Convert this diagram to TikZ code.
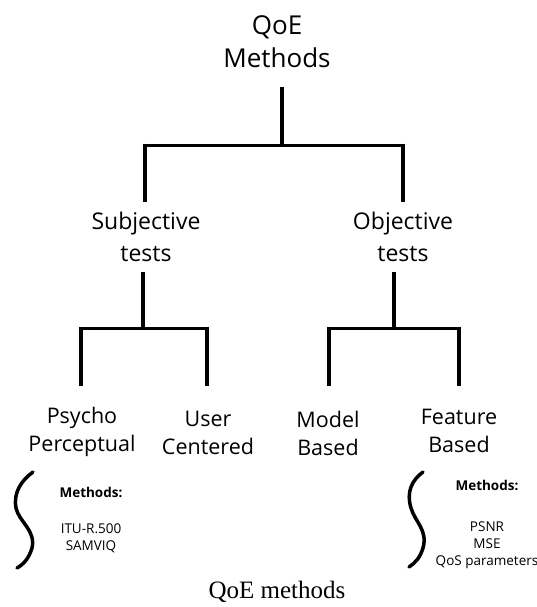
\documentclass[tikz,border=0pt]{standalone}
\usepackage{fontspec}
\setmainfont{Open Sans}
\newfontfamily\capfont{Liberation Serif}
\usetikzlibrary{positioning}
\def\leftbrace{(33,472) .. controls (22,480) and (13,492) .. (16,508) .. controls (19,522) and (36,530) .. (32,548) .. controls (29,558) and (24,564) .. (17,568)}
\def\rightbrace{(423,472) .. controls (412,480) and (406,492) .. (411,508) .. controls (415,522) and (428,530) .. (423,548) .. controls (420,558) and (415,563) .. (409,567)}

\begin{document}
\begin{tikzpicture}[x=1pt, y=-1pt,
	top/.style={align=center, inner sep=0pt, font=\fontsize{26}{33}\selectfont},
	lbl/.style={align=center, inner sep=0pt, font=\fontsize{23}{32}\selectfont},
	leaf/.style={align=center, inner sep=0pt, font=\fontsize{21.5}{28}\selectfont},
	small/.style={align=center, inner sep=0pt, font=\fontsize{13.5}{17}\selectfont},
	stem/.style={line width=4.5pt},
	bar/.style={line width=3pt},
	brace/.style={line width=3.5pt, line cap=round}]
	\clip (0,0) rectangle (537,607);

	\node[top] (qoe) at (277,42) {QoE\\Methods};
	\node[lbl] (subj) at (146,237) {Subjective\\tests};
	\node[lbl] (obj) at (403,237) {Objective\\tests};
	\node[leaf] (psy) at (82,432) {Psycho\\Perceptual};
	\node[leaf] (user) at (208,433) {User\\Centered};
	\node[leaf] (model) at (328,433) {Model\\Based};
	\node[leaf] (feat) at (459,431) {Feature\\Based};

	% junctions and drop tops
	\coordinate (jroot) at (282,145);
	\coordinate (jsubj) at (143,328);
	\coordinate (jobj) at (394,328);
	\coordinate (d-subj) at (145,145);
	\coordinate (d-obj) at (403,145);
	\coordinate (d-psy) at (81,328);
	\coordinate (d-user) at (207,328);
	\coordinate (d-model) at (329,328);
	\coordinate (d-feat) at (459,328);

	% QoE -> tests
	\draw[stem] (jroot) ++(0,-58) -- (jroot);
	\draw[bar] (d-subj) -- (d-obj);
	\foreach \n in {subj, obj}
		\draw[stem] ([yshift=1.5pt]d-\n) -- ++(0,58.5);

	% tests -> leaves
	\draw[stem] (jsubj) ++(0,-56) -- (jsubj);
	\draw[stem] (jobj) ++(0,-56) -- (jobj);
	\draw[bar] (d-psy) -- (d-user);
	\draw[bar] (d-model) -- (d-feat);
	\foreach \n in {psy, user, model, feat}
		\draw[stem] ([yshift=1.5pt]d-\n) -- ++(0,59.5);

	% methods under the leaves
	\draw[brace] \leftbrace;
	\node[small, font=\fontsize{13.5}{17}\selectfont\bfseries] (meth-l) at (91,492) {Methods:};
	\node[small] (list-l) at (91,538) {ITU-R.500\\SAMVIQ};
	\draw[brace] \rightbrace;
	\node[small, font=\fontsize{13.5}{17}\selectfont\bfseries] (meth-r) at (487,485) {Methods:};
	\node[small] (list-r) at (487,545) {PSNR\\MSE\\QoS parameters};

	\node[font=\capfont\fontsize{25}{30}\selectfont, inner sep=0pt] (cap) at (277,592) {QoE methods};
\end{tikzpicture}
\end{document}
